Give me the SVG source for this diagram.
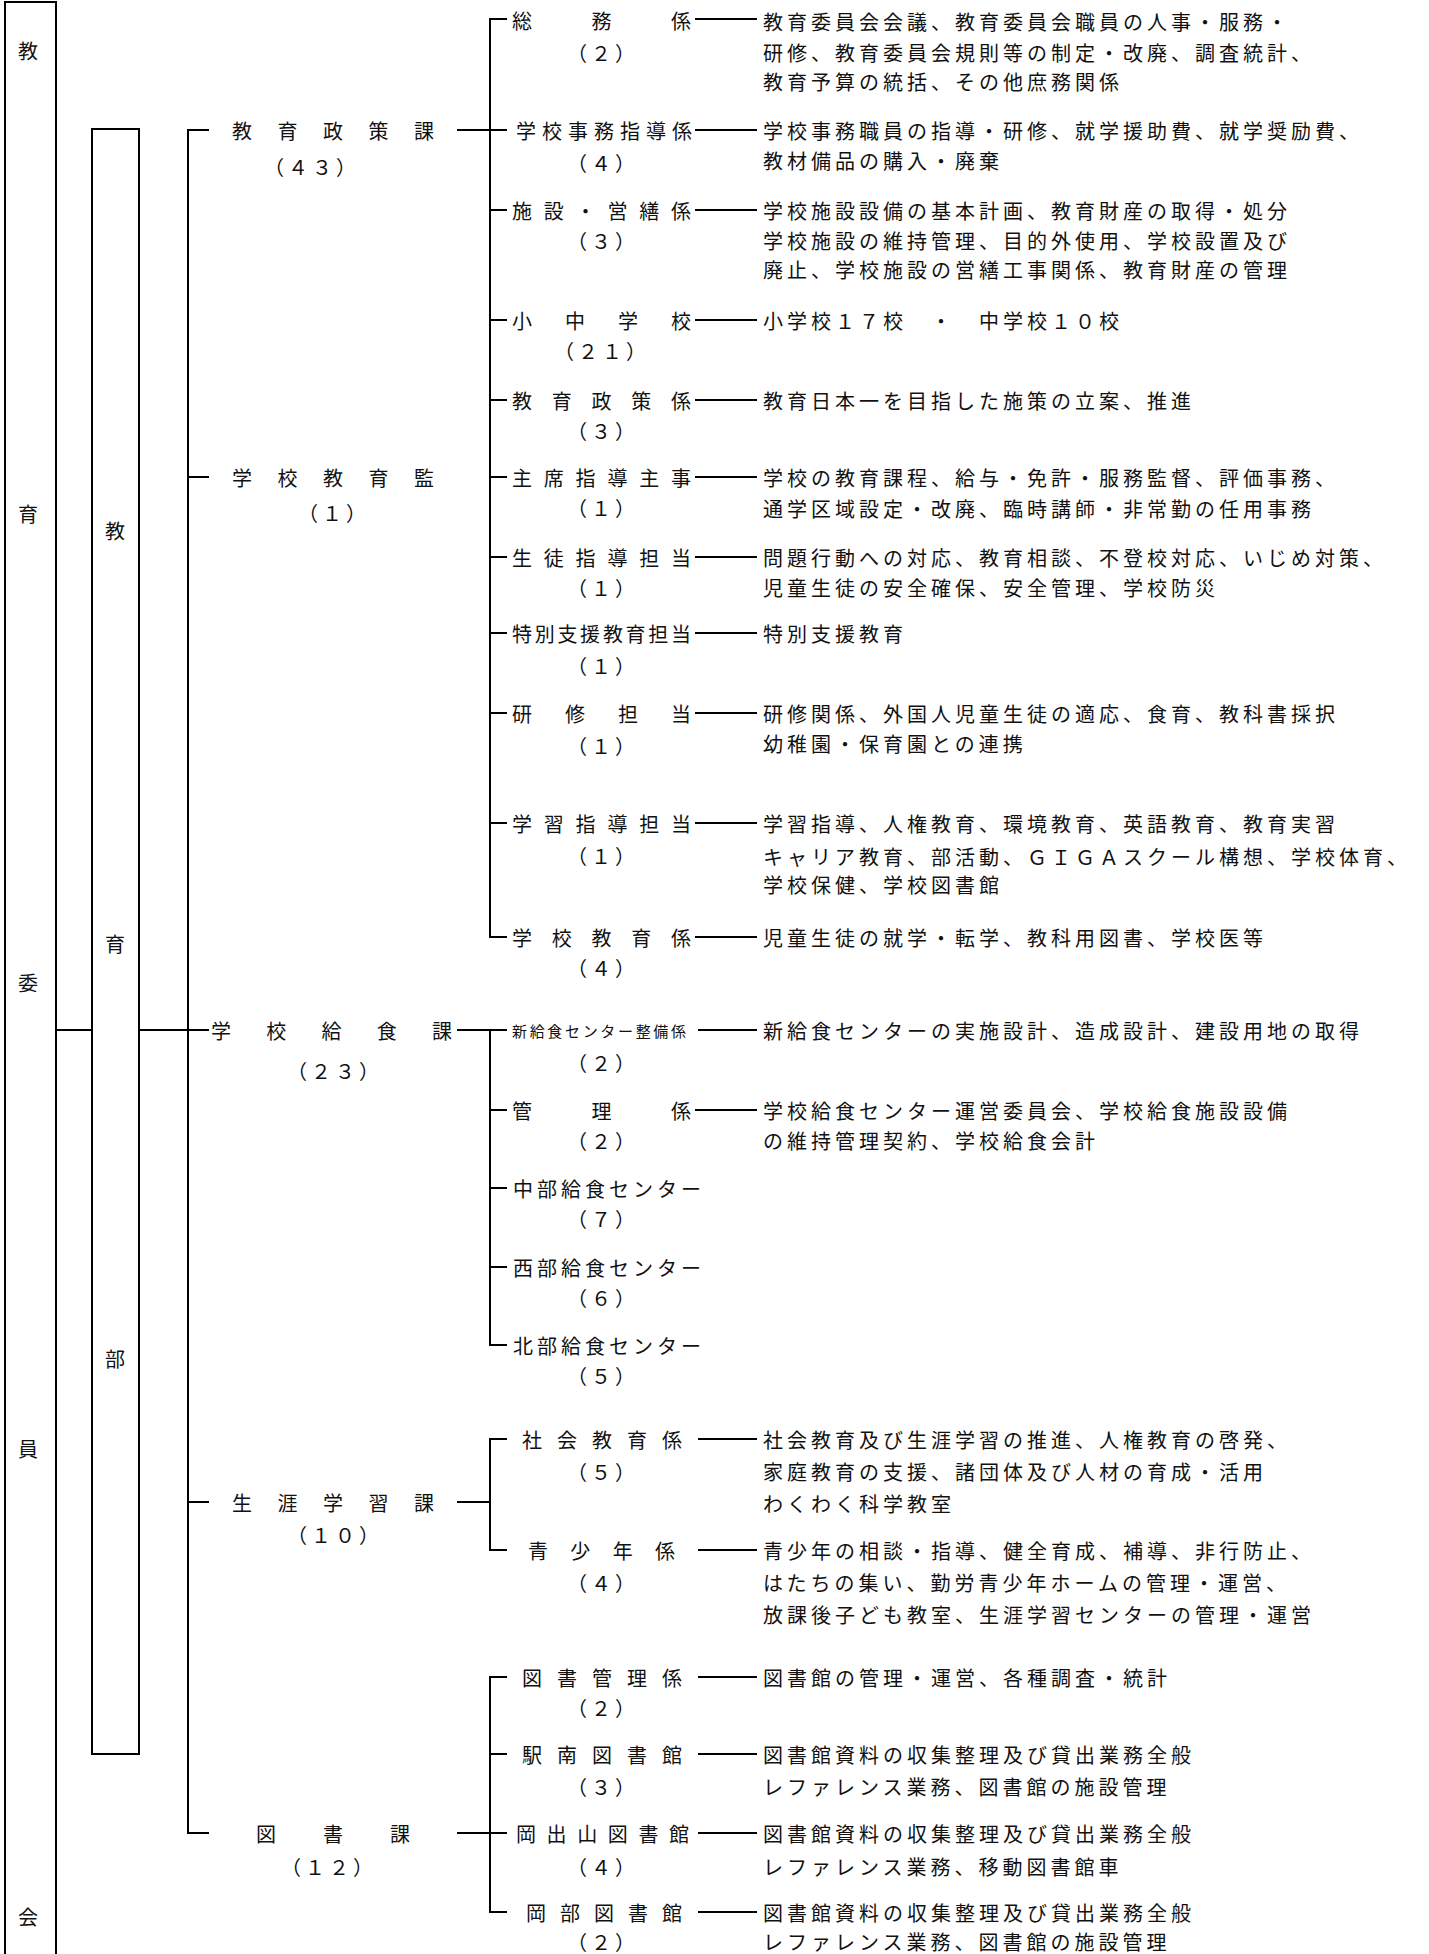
<svg xmlns="http://www.w3.org/2000/svg" width="1429" height="1954" viewBox="0 0 1429 1954">
<style>
text{font-family:"Noto Sans CJK JP","Noto Sans",sans-serif;font-size:20px;fill:#111;dominant-baseline:central}
.desc{letter-spacing:4px}
.small{font-size:15px}
.ln{stroke:#000;stroke-width:2;fill:none}
</style>
<rect width="1429" height="1954" fill="#fff"/>
<g id="connectors" class="ln">
<path d="M56,1030H92M139,1030H209"/>
<path d="M209,130H188V1833H209M188,477H209M188,1030H209M188,1502H209"/>
<path d="M457,130H507M507,19H490V937H507M490,210H507M490,320H507M490,400H507M490,477H507M490,557H507M490,633H507M490,713H507M490,823H507"/>
<path d="M457,1030H507M490,1030V1345H507M490,1110H507M490,1188H507M490,1267H507"/>
<path d="M457,1502H490M507,1439H490V1550H507"/>
<path d="M457,1833H507M507,1677H490V1912H507M490,1754H507"/>
<path d="M695,19H757M695,130H757M695,210H757M695,320H757M695,400H757M695,477H757M695,557H757M695,633H757M695,713H757M695,823H757M695,937H757M698,1030H757M695,1110H757M698,1439H757M698,1550H757M698,1677H757M698,1754H757M698,1833H757M698,1912H757"/>
</g>
<g id="kyoiku-iinkai">
<path class="ln" d="M5,1954V2H56V1954"/>
<text x="18" y="50">教</text><text x="18" y="513">育</text><text x="18" y="982">委</text><text x="18" y="1448">員</text><text x="18" y="1916">会</text>
</g>
<g id="kyoiku-bu">
<rect class="ln" x="92" y="129" width="47" height="1625"/>
<text x="105" y="530">教</text><text x="105" y="943">育</text><text x="105" y="1358">部</text>
</g>
<g id="kyoiku-seisaku-ka">
<text x="232 277.5 323 368.5 414" y="130">教育政策課</text>
<text x="264 288 312 336" y="166">（４３）</text>
</g>
<g id="gakko-kyoikukan">
<text x="232 277.5 323 368.5 414" y="477">学校教育監</text>
<text x="298 322 346" y="512">（１）</text>
</g>
<g id="gakko-kyushoku-ka">
<text x="211 266.25 321.5 376.75 432" y="1030">学校給食課</text>
<text x="287 311 335 359" y="1070">（２３）</text>
</g>
<g id="shogai-gakushu-ka">
<text x="232 277.5 323 368.5 414" y="1502">生涯学習課</text>
<text x="287 311 335 359" y="1534">（１０）</text>
</g>
<g id="tosho-ka">
<text x="256 323 390" y="1833">図書課</text>
<text x="281 305 329 353" y="1866">（１２）</text>
</g>
<g id="somu">
<text x="512 591.5 671" y="20">総務係</text>
<text x="567 591 615" y="52">（２）</text>
<text class="desc" x="763" y="21">教育委員会会議、教育委員会職員の人事・服務・</text>
<text class="desc" x="763" y="52">研修、教育委員会規則等の制定・改廃、調査統計、</text>
<text class="desc" x="763" y="81">教育予算の統括、その他庶務関係</text>
</g>
<g id="gakko-jimu">
<text x="516 542 568 594 620 646 672" y="130">学校事務指導係</text>
<text x="567 591 615" y="162">（４）</text>
<text class="desc" x="763" y="130">学校事務職員の指導・研修、就学援助費、就学奨励費、</text>
<text class="desc" x="763" y="160">教材備品の購入・廃棄</text>
</g>
<g id="shisetsu">
<text x="512 543.8 575.6 607.4 639.2 671" y="210">施設・営繕係</text>
<text x="567 591 615" y="240">（３）</text>
<text class="desc" x="763" y="210">学校施設設備の基本計画、教育財産の取得・処分</text>
<text class="desc" x="763" y="240">学校施設の維持管理、目的外使用、学校設置及び</text>
<text class="desc" x="763" y="269">廃止、学校施設の営繕工事関係、教育財産の管理</text>
</g>
<g id="shochu">
<text x="512 565 618 671" y="320">小中学校</text>
<text x="554 578 602 626" y="350">（２１）</text>
<text class="desc" x="763" y="320">小学校１７校　・　中学校１０校</text>
</g>
<g id="kyoiku-seisaku-kakari">
<text x="512 551.75 591.5 631.25 671" y="400">教育政策係</text>
<text x="567 591 615" y="430">（３）</text>
<text class="desc" x="763" y="400">教育日本一を目指した施策の立案、推進</text>
</g>
<g id="shuseki">
<text x="512 543.8 575.6 607.4 639.2 671" y="477">主席指導主事</text>
<text x="567 591 615" y="507">（１）</text>
<text class="desc" x="763" y="477">学校の教育課程、給与・免許・服務監督、評価事務、</text>
<text class="desc" x="763" y="508">通学区域設定・改廃、臨時講師・非常勤の任用事務</text>
</g>
<g id="seito">
<text x="512 543.8 575.6 607.4 639.2 671" y="557">生徒指導担当</text>
<text x="567 591 615" y="587">（１）</text>
<text class="desc" x="763" y="557">問題行動への対応、教育相談、不登校対応、いじめ対策、</text>
<text class="desc" x="763" y="587">児童生徒の安全確保、安全管理、学校防災</text>
</g>
<g id="tokubetsu">
<text x="512 534.7 557.4 580.1 602.9 625.6 648.3 671" y="633">特別支援教育担当</text>
<text x="567 591 615" y="665">（１）</text>
<text class="desc" x="763" y="633">特別支援教育</text>
</g>
<g id="kenshu">
<text x="512 565 618 671" y="713">研修担当</text>
<text x="567 591 615" y="745">（１）</text>
<text class="desc" x="763" y="713">研修関係、外国人児童生徒の適応、食育、教科書採択</text>
<text class="desc" x="763" y="743">幼稚園・保育園との連携</text>
</g>
<g id="gakushu">
<text x="512 543.8 575.6 607.4 639.2 671" y="823">学習指導担当</text>
<text x="567 591 615" y="855">（１）</text>
<text class="desc" x="763" y="823">学習指導、人権教育、環境教育、英語教育、教育実習</text>
<text class="desc" x="763" y="856">キャリア教育、部活動、ＧＩＧＡスクール構想、学校体育、</text>
<text class="desc" x="763" y="884">学校保健、学校図書館</text>
</g>
<g id="gakko-kyoiku">
<text x="512 551.75 591.5 631.25 671" y="937">学校教育係</text>
<text x="567 591 615" y="967">（４）</text>
<text class="desc" x="763" y="937">児童生徒の就学・転学、教科用図書、学校医等</text>
</g>
<g id="shin-kyushoku">
<text class="small" x="512 529.7 547.3 565 582.7 600.3 618 635.7 653.3 671" y="1030">新給食センター整備係</text>
<text x="567 591 615" y="1062">（２）</text>
<text class="desc" x="763" y="1030">新給食センターの実施設計、造成設計、建設用地の取得</text>
</g>
<g id="kanri">
<text x="512 591.5 671" y="1110">管理係</text>
<text x="567 591 615" y="1140">（２）</text>
<text class="desc" x="763" y="1110">学校給食センター運営委員会、学校給食施設設備</text>
<text class="desc" x="763" y="1140">の維持管理契約、学校給食会計</text>
</g>
<g id="chubu">
<text class="desc" x="513" y="1188">中部給食センター</text>
<text x="567 591 615" y="1218">（７）</text>
</g>
<g id="seibu">
<text class="desc" x="513" y="1267">西部給食センター</text>
<text x="567 591 615" y="1297">（６）</text>
</g>
<g id="hokubu">
<text class="desc" x="513" y="1345">北部給食センター</text>
<text x="567 591 615" y="1375">（５）</text>
</g>
<g id="shakai">
<text x="522 557 592 627 662" y="1439">社会教育係</text>
<text x="567 591 615" y="1471">（５）</text>
<text class="desc" x="763" y="1439">社会教育及び生涯学習の推進、人権教育の啓発、</text>
<text class="desc" x="763" y="1471">家庭教育の支援、諸団体及び人材の育成・活用</text>
<text class="desc" x="763" y="1503">わくわく科学教室</text>
</g>
<g id="seishonen">
<text x="528 570.3 612.7 655" y="1550">青少年係</text>
<text x="567 591 615" y="1582">（４）</text>
<text class="desc" x="763" y="1550">青少年の相談・指導、健全育成、補導、非行防止、</text>
<text class="desc" x="763" y="1582">はたちの集い、勤労青少年ホームの管理・運営、</text>
<text class="desc" x="763" y="1614">放課後子ども教室、生涯学習センターの管理・運営</text>
</g>
<g id="tosho-kanri">
<text x="522 557 592 627 662" y="1677">図書管理係</text>
<text x="567 591 615" y="1707">（２）</text>
<text class="desc" x="763" y="1677">図書館の管理・運営、各種調査・統計</text>
</g>
<g id="ekinan">
<text x="522 557 592 627 662" y="1754">駅南図書館</text>
<text x="567 591 615" y="1786">（３）</text>
<text class="desc" x="763" y="1754">図書館資料の収集整理及び貸出業務全般</text>
<text class="desc" x="763" y="1786">レファレンス業務、図書館の施設管理</text>
</g>
<g id="okadeyama">
<text x="516 546.6 577.2 607.8 638.4 669" y="1833">岡出山図書館</text>
<text x="567 591 615" y="1866">（４）</text>
<text class="desc" x="763" y="1833">図書館資料の収集整理及び貸出業務全般</text>
<text class="desc" x="763" y="1866">レファレンス業務、移動図書館車</text>
</g>
<g id="okabe">
<text x="526 560 594 628 662" y="1912">岡部図書館</text>
<text x="567 591 615" y="1941">（２）</text>
<text class="desc" x="763" y="1912">図書館資料の収集整理及び貸出業務全般</text>
<text class="desc" x="763" y="1941">レファレンス業務、図書館の施設管理</text>
</g>
</svg>
